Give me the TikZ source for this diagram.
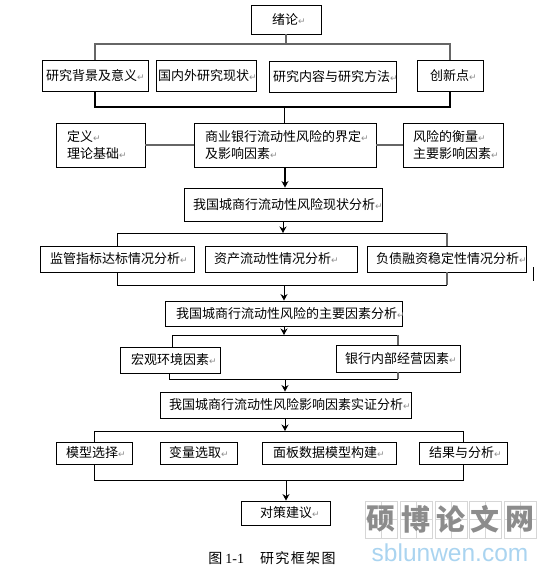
\documentclass[tikz,border=0pt]{standalone}
\usepackage{fontspec}
\setmainfont{Noto Sans CJK SC}
\newfontfamily\mkfont{DejaVu Sans}
\newfontfamily\latinserif{Liberation Serif}
\newfontfamily\wmlatin{Liberation Sans}
\newfontfamily\capfont[LetterSpace=10]{Noto Sans CJK SC}
\usetikzlibrary{arrows.meta}
\definecolor{wmgray}{gray}{0.55}
\definecolor{wmgrid}{gray}{0.84}
\definecolor{wmblue}{RGB}{170,212,240}
\definecolor{mkgray}{gray}{0.55}
\definecolor{busgray}{gray}{0.4}
\newcommand\mk{\rlap{\fontsize{9}{9}\selectfont\mkfont\textcolor{mkgray}{↵}}}
\tikzset{
  bx/.style={draw=black,line width=0.9pt,inner xsep=0pt,inner ysep=0pt,align=left,
    font=\fontsize{13}{17}\selectfont},
  bus/.style={draw=black,line width=0.9pt},
  gbus/.style={draw=busgray,line width=1.3pt},
  hbus/.style={draw=black,line width=1.5pt},
  arr/.style={draw=black,line width=1pt,-{Stealth[length=6.5pt,width=7pt]}},
  wmcell/.style={draw=wmgrid,line width=0.7pt,minimum width=32pt,minimum height=37pt,inner sep=0pt,
    text=wmgray,font=\fontsize{29}{29}\selectfont\bfseries,
    path picture={\draw[wmgrid,line width=0.5pt]
      (path picture bounding box.north) -- (path picture bounding box.south)
      (path picture bounding box.west) -- (path picture bounding box.east);}},
}
\newcommand\boxn[7]{%
  \pgfmathsetmacro\bw{#4-#2}\pgfmathsetmacro\bh{#5-#3}%
  \node[bx,text width=\bw pt,minimum height=\bh pt] (#1) at ({(#2+#4)/2},{(#3+#5)/2}) {\hspace*{#6pt}#7\mk};}
\newcommand\boxt[8]{%
  \pgfmathsetmacro\bw{#4-#2}\pgfmathsetmacro\bh{#5-#3}%
  \node[bx,text width=\bw pt,minimum height=\bh pt] (#1) at ({(#2+#4)/2},{(#3+#5)/2}) {\hspace*{#6pt}#7\mk\\\hspace*{#6pt}#8\mk};}
\begin{document}
\begin{tikzpicture}[x=1pt,y=-1pt]
\useasboundingbox (0,0) rectangle (556,572);
\boxn{lun}{251}{5}{321}{34}{21}{绪论}
\boxn{bg}{42}{60}{148}{91}{4}{研究背景及意义}
\boxn{gn}{156}{60}{256}{91}{2}{国内外研究现状}
\boxn{nr}{269}{61}{396}{92}{4}{研究内容与研究方法}
\boxn{cx}{417}{60}{483}{91}{13}{创新点}
\boxt{dy}{56}{123}{145}{167}{11}{定义}{理论基础}
\boxt{sy}{194}{123}{376}{167}{11}{商业银行流动性风险的界定}{及影响因素}
\boxt{fx}{403}{123}{503}{167}{10}{风险的衡量}{主要影响因素}
\boxn{xz}{184}{188}{382}{221}{9}{我国城商行流动性风险现状分析}
\boxn{jg}{40}{246}{194}{272}{10}{监管指标达标情况分析}
\boxn{zc}{205}{246}{357}{272}{9}{资产流动性情况分析}
\boxn{fz}{367}{246}{526}{272}{9}{负债融资稳定性情况分析}
\boxn{zy}{165}{301}{402}{326}{11}{我国城商行流动性风险的主要因素分析}
\boxn{hg}{120}{347}{220}{373}{11}{宏观环境因素}
\boxn{yh}{336}{345}{460}{372}{9}{银行内部经营因素}
\boxn{sz}{160}{392}{411}{418}{9}{我国城商行流动性风险影响因素实证分析}
\boxn{mx}{56}{442}{132}{464}{10}{模型选择}
\boxn{bl}{160}{442}{237}{464}{9}{变量选取}
\boxn{mb}{262}{442}{396}{464}{11}{面板数据模型构建}
\boxn{jr}{419}{442}{507}{464}{10}{结果与分析}
\boxn{dc}{241}{501}{330}{525}{19}{对策建议}
% buses
\coordinate (a1) at (95,44); \coordinate (a2) at (450,44);
\coordinate (a3) at (95,107); \coordinate (a4) at (450,107); \coordinate (a5) at (284,107);
\draw[gbus] (a1 -| lun.south) -- (lun.south);
\draw[gbus] (bg.north -| a1) -- (a1) -- (a2) -- (a2 |- cx.north);
\draw[hbus] (bg.south -| a3) -- (a3) -- (a4) -- (a4 |- cx.south);
\draw[bus] (a5) -- (a5 |- sy.north);
\draw[gbus] (dy.east) -- (dy.east -| sy.west);
\draw[gbus] (sy.east) -- (sy.east -| fx.west);
\coordinate (c0) at (285,167);
\draw[arr,line width=1.3pt] (c0) -- (c0 |- xz.north);
\coordinate (b1) at (117,233); \coordinate (b2) at (447,233); \coordinate (b3) at (283,233);
\coordinate (b4) at (117,285); \coordinate (b5) at (447,285); \coordinate (b6) at (284,285);
\draw[arr] (b3 |- xz.south) -- (b3);
\draw[bus] (b1 |- jg.north) -- (b1) -- (b2);
\draw[gbus] (b2) -- (b2 |- fz.north);
\draw[bus] (b1 |- jg.south) -- (b4) -- (b5);
\draw[gbus] (b5) -- (b5 |- fz.south);
\draw[arr] (b6) -- (b6 |- zy.north);
\coordinate (d1) at (172,335); \coordinate (d2) at (398,335); \coordinate (d3) at (284,335);
\coordinate (d4) at (169,379); \coordinate (d5) at (398,379); \coordinate (d6) at (285,379);
\draw[arr] (d3 |- zy.south) -- (d3);
\draw[bus] (d1 |- hg.north) -- (d1) -- (d2);
\draw[gbus] (d2) -- (d2 |- yh.north);
\draw[bus] (d4 |- hg.south) -- (d4) -- (d5);
\draw[gbus] (d5) -- (d5 |- yh.south);
\draw[arr] (d6) -- (d6 |- sz.north);
\coordinate (e1) at (94,431); \coordinate (e2) at (463,431); \coordinate (e3) at (285,431);
\coordinate (e4) at (94,480); \coordinate (e5) at (463,480); \coordinate (e6) at (286,480);
\draw[arr] (e3 |- sz.south) -- (e3);
\draw[bus] (e1 |- mx.north) -- (e1) -- (e2) -- (e2 |- jr.north);
\draw[bus] (e4 |- mx.south) -- (e4) -- (e5) -- (e5 |- jr.south);
\draw[arr] (e6) -- (e6 |- dc.north);
% stray bar
\draw[black,line width=0.8pt] (533,267) -- (533,281);
% caption
\node[font=\fontsize{14}{14}\selectfont\capfont,inner sep=0pt] (cap) at (272,558) {图\hspace{3pt}{\latinserif 1-1}\hspace{16pt}研究框架图};
% watermark
\foreach \n/\cx/\ch in {w1/381/硕,w2/416/博,w3/451/论,w4/485/文,w5/520/网}{
  \node[wmcell] (\n) at (\cx,519.5) {\ch};
}
\node[text=wmblue,font=\fontsize{24.5}{24.5}\selectfont\wmlatin,inner sep=0pt] (wmurl) at (450,553) {sblunwen.com};
\end{tikzpicture}
\end{document}
